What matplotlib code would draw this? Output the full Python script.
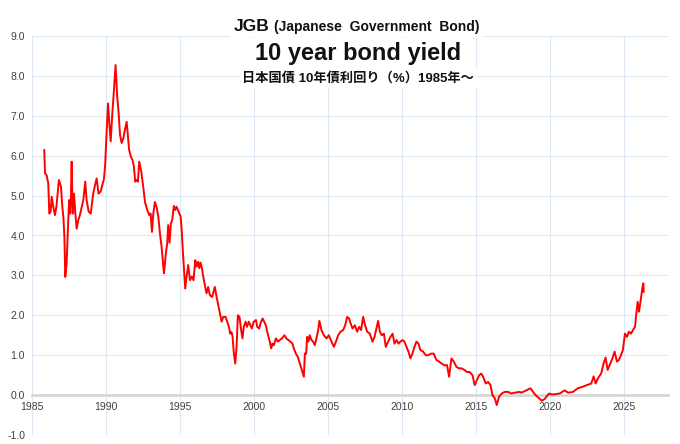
import matplotlib.pyplot as plt

# JGB 10 year yield (year, percent)
YEARS = [
    1985.83, 1985.88, 1985.99, 1986.10, 1986.17, 1986.26, 1986.33, 1986.44, 1986.55, 1986.65,
    1986.82, 1986.96, 1987.05, 1987.12, 1987.19, 1987.25, 1987.34, 1987.45, 1987.52, 1987.57,
    1987.63, 1987.68, 1987.75, 1987.84, 1987.93, 1988.02, 1988.13, 1988.24, 1988.47, 1988.60,
    1988.69, 1988.83, 1988.97, 1989.14, 1989.26, 1989.37, 1989.50, 1989.64, 1989.78, 1989.87,
    1989.95, 1990.04, 1990.14, 1990.23, 1990.32, 1990.43, 1990.54, 1990.65, 1990.76, 1990.86,
    1990.95, 1991.06, 1991.17, 1991.28, 1991.40, 1991.49, 1991.57, 1991.69, 1991.80, 1991.89,
    1991.98, 1992.07, 1992.16, 1992.25, 1992.39, 1992.52, 1992.64, 1992.79, 1992.93, 1993.02,
    1993.11, 1993.20, 1993.31, 1993.42, 1993.54, 1993.65, 1993.76, 1993.92, 1994.05, 1994.14,
    1994.21, 1994.30, 1994.39, 1994.48, 1994.59, 1994.68, 1994.77, 1994.91, 1995.05, 1995.12,
    1995.22, 1995.36, 1995.45, 1995.56, 1995.68, 1995.80, 1995.92, 1996.04, 1996.13, 1996.24,
    1996.31, 1996.40, 1996.49, 1996.58, 1996.71, 1996.80, 1996.91, 1997.03, 1997.18, 1997.36,
    1997.48, 1997.59, 1997.70, 1997.82, 1997.93, 1998.09, 1998.20, 1998.31, 1998.40, 1998.49,
    1998.56, 1998.65, 1998.74, 1998.83, 1998.92, 1999.03, 1999.14, 1999.23, 1999.32, 1999.44,
    1999.54, 1999.65, 1999.77, 1999.86, 1999.99, 2000.14, 2000.23, 2000.36, 2000.45, 2000.59,
    2000.70, 2000.81, 2000.90, 2000.99, 2001.08, 2001.17, 2001.26, 2001.35, 2001.49, 2001.62,
    2001.76, 2001.89, 2001.98, 2002.07, 2002.20, 2002.34, 2002.47, 2002.61, 2002.70, 2002.84,
    2002.97, 2003.11, 2003.24, 2003.38, 2003.45, 2003.54, 2003.60, 2003.69, 2003.78, 2003.89,
    2004.01, 2004.12, 2004.23, 2004.35, 2004.43, 2004.57, 2004.73, 2004.91, 2005.07, 2005.25,
    2005.41, 2005.55, 2005.70, 2005.86, 2006.04, 2006.17, 2006.31, 2006.44, 2006.54, 2006.67,
    2006.83, 2006.98, 2007.12, 2007.25, 2007.39, 2007.52, 2007.66, 2007.84, 2008.02, 2008.16,
    2008.29, 2008.40, 2008.52, 2008.65, 2008.79, 2008.92, 2009.08, 2009.24, 2009.38, 2009.51,
    2009.65, 2009.78, 2009.91, 2010.05, 2010.18, 2010.32, 2010.45, 2010.59, 2010.72, 2010.86,
    2010.99, 2011.13, 2011.26, 2011.44, 2011.62, 2011.80, 2011.98, 2012.16, 2012.34, 2012.52,
    2012.70, 2012.88, 2013.06, 2013.20, 2013.36, 2013.52, 2013.69, 2013.87, 2014.05, 2014.23,
    2014.41, 2014.59, 2014.78, 2014.93, 2015.09, 2015.23, 2015.38, 2015.50, 2015.68, 2015.84,
    2016.00, 2016.13, 2016.29, 2016.42, 2016.58, 2016.76, 2016.96, 2017.19, 2017.41, 2017.63,
    2017.97, 2018.09, 2018.43, 2018.70, 2018.88, 2019.05, 2019.28, 2019.46, 2019.66, 2019.78,
    2019.96, 2020.12, 2020.34, 2020.68, 2021.01, 2021.24, 2021.57, 2021.90, 2022.24, 2022.51,
    2022.81, 2022.97, 2023.11, 2023.26, 2023.48, 2023.64, 2023.78, 2023.92, 2024.05, 2024.24,
    2024.39, 2024.55, 2024.68, 2024.82, 2024.95, 2025.09, 2025.23, 2025.36, 2025.50, 2025.63,
    2025.77, 2025.86, 2025.95, 2026.04, 2026.17, 2026.26, 2026.33, 2026.36,
]
YIELDS = [
    6.14, 5.56, 5.51, 5.30, 4.55, 4.60, 4.97, 4.72, 4.51, 4.72,
    5.39, 5.22, 4.72, 4.47, 3.97, 2.96, 3.30, 4.39, 4.89, 4.55,
    4.89, 5.85, 4.55, 5.05, 4.55, 4.17, 4.39, 4.51, 4.89, 5.35,
    4.89, 4.60, 4.55, 5.05, 5.26, 5.43, 5.05, 5.10, 5.30, 5.43,
    5.80, 6.56, 7.31, 6.80, 6.36, 7.06, 7.64, 8.27, 7.48, 7.06,
    6.52, 6.32, 6.43, 6.64, 6.85, 6.48, 6.14, 5.97, 5.89, 5.72,
    5.35, 5.39, 5.35, 5.85, 5.60, 5.22, 4.84, 4.64, 4.51, 4.55,
    4.09, 4.55, 4.84, 4.72, 4.47, 4.05, 3.72, 3.05, 3.55, 3.80,
    4.26, 3.82, 4.30, 4.39, 4.74, 4.64, 4.72, 4.60, 4.47, 4.14,
    3.47, 2.67, 2.97, 3.26, 2.88, 2.97, 2.88, 3.38, 3.22, 3.34,
    3.18, 3.32, 3.18, 2.97, 2.71, 2.55, 2.71, 2.50, 2.46, 2.71,
    2.46, 2.26, 2.05, 1.84, 1.96, 1.96, 1.84, 1.71, 1.54, 1.58,
    1.46, 1.04, 0.79, 1.21, 2.00, 1.96, 1.63, 1.42, 1.71, 1.84,
    1.71, 1.84, 1.75, 1.67, 1.84, 1.88, 1.71, 1.67, 1.80, 1.92,
    1.84, 1.75, 1.59, 1.46, 1.34, 1.17, 1.29, 1.25, 1.42, 1.34,
    1.38, 1.42, 1.46, 1.50, 1.42, 1.38, 1.34, 1.29, 1.17, 1.04,
    0.96, 0.79, 0.63, 0.46, 1.04, 1.04, 1.46, 1.34, 1.50, 1.38,
    1.34, 1.25, 1.42, 1.63, 1.86, 1.63, 1.50, 1.42, 1.50, 1.34,
    1.21, 1.34, 1.50, 1.59, 1.63, 1.75, 1.96, 1.92, 1.80, 1.67,
    1.75, 1.59, 1.71, 1.63, 1.96, 1.75, 1.59, 1.54, 1.34, 1.46,
    1.67, 1.86, 1.59, 1.50, 1.54, 1.21, 1.34, 1.46, 1.54, 1.29,
    1.38, 1.29, 1.34, 1.38, 1.34, 1.21, 1.09, 0.92, 1.04, 1.21,
    1.34, 1.29, 1.13, 1.09, 1.00, 1.00, 1.04, 1.04, 0.88, 0.84,
    0.79, 0.75, 0.75, 0.46, 0.92, 0.84, 0.71, 0.67, 0.67, 0.63,
    0.58, 0.58, 0.50, 0.25, 0.38, 0.50, 0.54, 0.46, 0.29, 0.33,
    0.25, 0.00, -0.08, -0.25, -0.04, 0.04, 0.08, 0.08, 0.04, 0.06,
    0.08, 0.06, 0.12, 0.17, 0.08, 0.00, -0.08, -0.14, -0.10, -0.04,
    0.04, 0.02, 0.02, 0.04, 0.12, 0.06, 0.08, 0.17, 0.21, 0.25,
    0.29, 0.47, 0.29, 0.42, 0.54, 0.79, 0.94, 0.63, 0.75, 0.92,
    1.09, 0.84, 0.88, 1.00, 1.13, 1.54, 1.46, 1.59, 1.54, 1.63,
    1.71, 2.05, 2.34, 2.09, 2.42, 2.67, 2.80, 2.59,
]

X_TICKS = [1985, 1990, 1995, 2000, 2005, 2010, 2015, 2020, 2025]
Y_TICKS = [-1, 0, 1, 2, 3, 4, 5, 6, 7, 8, 9]

TITLE_1A = "JGB"
TITLE_1B = "(Japanese  Government  Bond)"
TITLE_2 = "10 year bond yield"
TITLE_3 = "日本国債 10年債利回り（%）1985年～"

LATIN = ["Liberation Sans", "DejaVu Sans"]
MIXED = ["Liberation Sans", "Noto Sans CJK JP", "DejaVu Sans"]
W, H = 680, 444


def main() -> None:
    plt.rcParams["font.family"] = LATIN
    fig = plt.figure(figsize=(W / 100, H / 100), dpi=100)
    ax = fig.add_axes([32 / W, 1 - 435 / H, (668 - 32) / W, (435 - 36) / H])

    ax.plot(YEARS, YIELDS, color="#ff0000", lw=1.4, zorder=3)

    ax.set_xlim(1985, 2028.0)
    ax.set_ylim(-1, 9)
    ax.set_xticks(X_TICKS)
    ax.set_yticks(Y_TICKS)
    ax.set_yticklabels([f"{v:.1f}" for v in Y_TICKS])
    ax.get_yticklabels()[0].set_color("#e00000")

    ax.grid(color="#dde8f4", lw=0.8, zorder=0)
    ax.set_axisbelow(True)
    for side in ("top", "right", "left"):
        ax.spines[side].set_visible(False)
    ax.spines["bottom"].set_position(("data", 0))
    ax.spines["bottom"].set_color("#d6d6d6")
    ax.spines["bottom"].set_linewidth(2.0)
    ax.spines["bottom"].set_zorder(1)
    ax.tick_params(length=0, labelsize=7.5, colors="#404040", pad=5)

    box = dict(facecolor="white", edgecolor="none", pad=2.5)
    fig.text(269 / W, 1 - 31 / H, TITLE_1A, ha="right", va="baseline",
             fontsize=12.5, fontweight="bold", color="#111111", bbox=box)
    fig.text(274 / W, 1 - 31 / H, TITLE_1B, ha="left", va="baseline",
             fontsize=10, fontweight="bold", color="#111111", bbox=box)
    fig.text(358 / W, 1 - 60 / H, TITLE_2, ha="center", va="baseline",
             fontsize=17, fontweight="bold", color="#111111", bbox=box)
    fig.text(358 / W, 1 - 78 / H, TITLE_3, ha="center", va="center",
             fontsize=9.5, fontweight="bold", color="#111111", family=MIXED,
             bbox=box)

    fig.savefig("out.png", dpi=100)


if __name__ == "__main__":
    main()
